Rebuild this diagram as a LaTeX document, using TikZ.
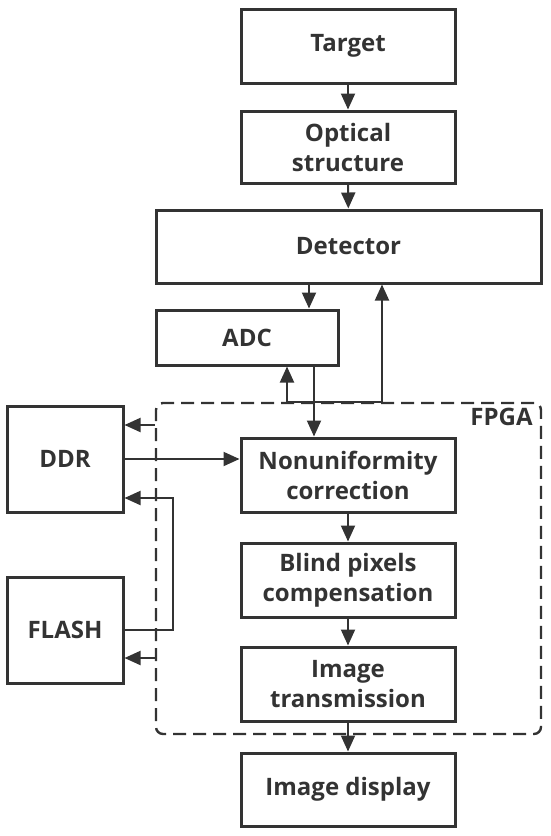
\documentclass[tikz,border=0pt]{standalone}
\usepackage{fontspec}
\setmainfont{Open Sans}
\usetikzlibrary{arrows.meta,positioning,calc}
\definecolor{ink}{HTML}{333333}

\begin{document}
\begin{tikzpicture}[
    x=1pt, y=-1pt,
    font=\fontsize{24}{30}\selectfont\bfseries,
    box/.style={draw=ink, line width=3pt, align=center, text=ink,
      minimum width=214pt, minimum height=74pt, inner sep=0pt},
    fpgabox/.style={draw=ink, line width=2.4pt, rounded corners=7pt,
      dash pattern=on 13pt off 7pt, minimum width=385pt, minimum height=331pt},
    arrow/.style={-{Triangle[length=16pt,width=14pt]}, draw=ink, line width=2pt}
  ]
    \useasboundingbox (0,0) rectangle (550,836);
    % FPGA frame
    \node[fpgabox] (fpga) at (348.5,568.5) {};
    \node[anchor=north east, text=ink] (fpgalbl) at ([xshift=-6pt,yshift=-3pt]fpga.north east) {FPGA};
    % blocks
    \node[box] (target) at (348,46) {Target};
    \node[box, minimum height=72pt] (optical) at (348,147) {Optical\\structure};
    \node[box, minimum width=385pt, minimum height=73pt] (det) at (348.5,246.5) {Detector};
    \node[box, minimum width=182pt, minimum height=55pt] (adc) at (247,337.5) {ADC};
    \node[box, minimum width=116pt, minimum height=106pt] (ddr) at (65,459) {DDR};
    \node[box, minimum width=116pt, minimum height=106pt] (flash) at (65,630) {FLASH};
    \node[box] (nonuni) at (348,475) {Nonuniformity\\correction};
    \node[box] (blind) at (348,580) {Blind pixels\\compensation};
    \node[box] (trans) at (348,684) {Image\\transmission};
    \node[box, minimum height=73pt] (disp) at (348,789.5) {Image display};
    % helper points
    \coordinate (dtoa) at ([xshift=62pt]adc.north);
    \coordinate (atof) at ([xshift=67pt]adc.south);
    \coordinate (toadc) at ([xshift=40pt]adc.south);
    \coordinate (todet) at ([xshift=33.5pt]det.south);
    \coordinate (ddrin) at ([yshift=34pt]ddr.east);
    \coordinate (ddrin2) at ([yshift=-39pt]ddr.east);
    \coordinate (fturn) at ([xshift=48pt]flash.east);
    \coordinate (flashin) at ([yshift=-28pt]flash.east);
    % main chain
    \draw[arrow] (target) -- (optical);
    \draw[arrow] (optical) -- (det);
    \draw[arrow] (dtoa |- det.south) -- (dtoa);
    \draw[arrow] (atof) -- (atof |- nonuni.north);
    \draw[arrow] (nonuni) -- (blind);
    \draw[arrow] (blind) -- (trans);
    \draw[arrow] (trans) -- (disp);
    % control lines from FPGA
    \draw[arrow] (toadc |- fpga.north) -- (todet |- fpga.north) -- (todet);
    \draw[arrow] (toadc |- fpga.north) -- (toadc);
    % memories
    \draw[arrow] (ddrin -| fpga.west) -- (ddrin);
    \draw[arrow] (ddr.east) -- (ddr.east -| nonuni.west);
    \draw[arrow] (flash.east) -- (fturn) |- (ddrin2);
    \draw[arrow] (flashin -| fpga.west) -- (flashin);
  \end{tikzpicture}
\end{document}
